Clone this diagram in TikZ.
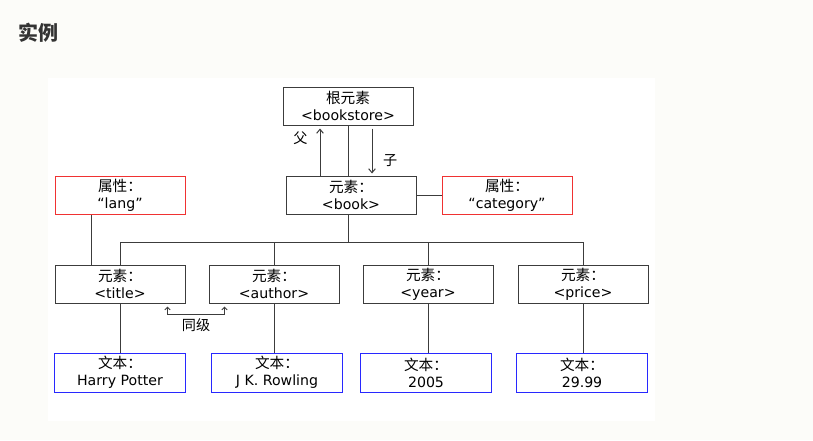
\documentclass[tikz,border=0pt]{standalone}
\usepackage{fontspec}
\setmainfont{DejaVu Sans}
\newfontfamily\cjk{Noto Sans CJK SC}
\usetikzlibrary{arrows.meta,calc}
\definecolor{fondo}{RGB}{252,252,249}
\definecolor{linea}{RGB}{60,60,60}
\definecolor{rojo}{RGB}{240,50,50}
\definecolor{azul}{RGB}{40,40,255}
\tikzset{
  caja/.style={draw=linea,line width=0.75pt,minimum width=97.5pt,minimum height=28.5pt,
               inner sep=0pt,align=center,font=\fontsize{10.6}{12.8}\selectfont},
  atributo/.style={caja,draw=rojo},
  texto/.style={caja,draw=none},
  borde/.style={draw=azul,line width=0.75pt},
  enlace/.style={draw=linea,line width=0.75pt},
  flecha/.style={enlace,-{Straight Barb[length=3pt,width=5pt]}},
  nota/.style={font=\cjk\fontsize{10.6}{12}\selectfont,inner sep=1pt},
}
\newcommand{\zh}[1]{{\cjk\fontsize{11}{12.8}\selectfont #1}}
\begin{document}
\begin{tikzpicture}[x=0.75pt,y=-0.75pt]
  \useasboundingbox[fill=fondo] (0,0) rectangle (813,440);
  \fill[white] (48,78) rectangle (655,421);
  \node[font=\cjk\bfseries\fontsize{15}{18}\selectfont,text=black!80] (encabezado) at (38,33) {实例};
  % arbol
  \node[caja] (raiz) at (348,106) {\zh{根元素}\\<bookstore>};
  \node[caja] (book) at (351,195) {\zh{元素：}\\<book>};
  \node[atributo] (cat) at (507,195) {\zh{属性：}\\“category”};
  \node[atributo] (lang) at (120,195) {\zh{属性：}\\“lang”};
  \node[caja] (titulo) at (120,284) {\zh{元素：}\\<title>};
  \node[caja] (autor) at (274,284) {\zh{元素：}\\<author>};
  \node[caja] (ano) at (428,284) {\zh{元素：}\\<year>};
  \node[caja] (precio) at (583,284) {\zh{元素：}\\<price>};
  \node[texto] (hp) at (120,372.5) {\zh{文本：}\\Harry Potter};
  \node[texto] (jk) at (277,372.5) {\zh{文本：}\\J K. Rowling};
  \node[texto] (yr) at (426,372.5) {\zh{文本：}\\2005};
  \node[texto] (pr) at (582,372.5) {\zh{文本：}\\29.99};
  \foreach \n in {hp,jk,yr,pr}
    \draw[borde] (\n.south west) rectangle (\n.north east);
  \coordinate (bus) at (0,242.5);
  % enlaces
  \draw[enlace] (raiz) -- (raiz |- book.north);
  \draw[enlace] (raiz |- book.south) -- (raiz |- bus);
  \draw[enlace] (titulo) |- (precio |- bus) -- (precio);
  \draw[enlace] (autor) -- (autor |- bus);
  \draw[enlace] (ano) -- (ano |- bus);
  \draw[enlace] (book) -- (cat);
  \draw[enlace] ($(lang.south)+(-29,0)$) -- ($(titulo.north)+(-29,0)$);
  \draw[enlace] (titulo) -- (titulo |- hp.north);
  \draw[enlace] (autor) -- (autor |- jk.north);
  \draw[enlace] (ano) -- (ano |- yr.north);
  \draw[enlace] (precio) -- (precio |- pr.north);
  \draw[flecha] ($(book.north)+(-31,0)$) -- node[nota,pos=0.8,left=8pt]{父} ($(raiz.south)+(-28,3)$);
  \draw[flecha] ($(raiz.south)+(24,3)$) -- node[nota,pos=0.72,right=7pt]{子} ($(book.north)+(21,-2)$);
  \draw[enlace,{Straight Barb[length=2pt,width=4pt]}-{Straight Barb[length=2pt,width=4pt]}]
    ($(titulo.south east)+(-18,3)$) |- node[nota,pos=0.75,below=2pt]{同级} ($(autor.south west)+(16,11)$)
    -- ($(autor.south west)+(16,3)$);
\end{tikzpicture}
\end{document}
